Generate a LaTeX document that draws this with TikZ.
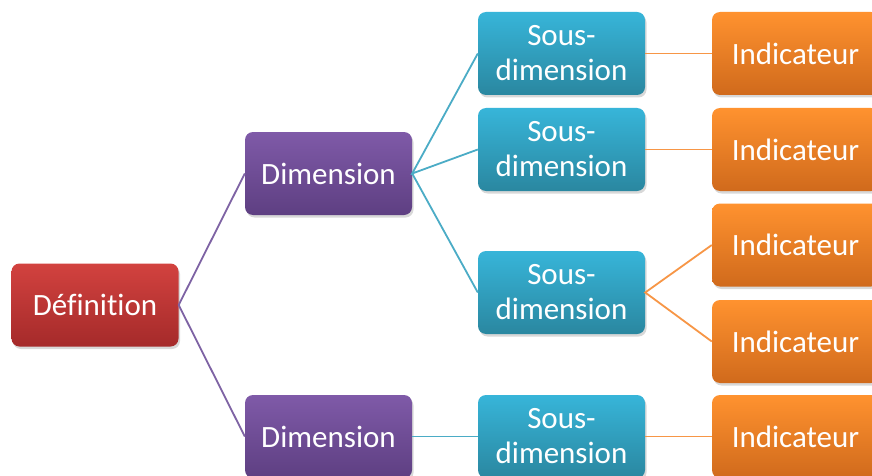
\documentclass[tikz,border=0pt]{standalone}
\usepackage{fontspec}
\setmainfont[Ligatures=NoCommon]{Carlito}
\usetikzlibrary{shadows}
\definecolor{redT}{HTML}{D2423F}
\definecolor{redB}{HTML}{A52A2A}
\definecolor{purT}{HTML}{7F5AA8}
\definecolor{purB}{HTML}{5E3F82}
\definecolor{bluT}{HTML}{37B5D9}
\definecolor{bluB}{HTML}{2A87A0}
\definecolor{oraT}{HTML}{FF922F}
\definecolor{oraB}{HTML}{D06A1C}
\definecolor{purL}{HTML}{7E63A4}
\definecolor{bluL}{HTML}{4BACC6}
\definecolor{oraL}{HTML}{F79646}
\begin{document}
\begin{tikzpicture}[x=1pt,y=-1pt,
  box/.style={rounded corners=8pt, minimum width=167pt, minimum height=83pt,
    text=white, align=center, inner sep=0pt,
    font=\fontsize{31}{35}\selectfont,
    drop shadow={opacity=0.3, shadow xshift=1.5pt, shadow yshift=-2.5pt}},
  defbox/.style={box, top color=redT, bottom color=redB},
  dimbox/.style={box, top color=purT, bottom color=purB},
  sdbox/.style={box, top color=bluT, bottom color=bluB},
  indbox/.style={box, top color=oraT, bottom color=oraB},
  purline/.style={draw=purL, line width=1.8pt},
  bluline/.style={draw=bluL, line width=1.8pt},
  oraline/.style={draw=oraL, line width=1.8pt}]
\clip (0,0) rectangle (872,476);
\fill[white] (0,0) rectangle (872,476);

\node[defbox] (def) at (95,305) {Définition};
\node[dimbox] (dim1) at (328.5,173.5) {Dimension};
\node[dimbox] (dim2) at (328.5,436.5) {Dimension};
\node[sdbox] (sd1) at (561.5,53.5) {Sous-\\dimension};
\node[sdbox] (sd2) at (561.5,149.5) {Sous-\\dimension};
\node[sdbox] (sd3) at (561.5,292.5) {Sous-\\dimension};
\node[sdbox] (sd4) at (561.5,436.5) {Sous-\\dimension};
\node[indbox] (i1) at (795.5,53.5) {Indicateur};
\node[indbox] (i2) at (795.5,149.5) {Indicateur};
\node[indbox] (i3) at (795.5,245) {Indicateur};
\node[indbox] (i4) at (795.5,341.5) {Indicateur};
\node[indbox] (i5) at (795.5,436.5) {Indicateur};

\draw[purline] (dim1.west) -- (def.east) -- (dim2.west);
\draw[bluline] (sd1.west) -- (dim1.east) -- (sd2.west);
\draw[bluline] (dim1.east) -- (sd3.west);
\draw[bluline] (dim2.east) -- (sd4.west);
\draw[oraline] (sd1.east) -- (i1.west);
\draw[oraline] (sd2.east) -- (i2.west);
\draw[oraline] (i3.west) -- (sd3.east) -- (i4.west);
\draw[oraline] (sd4.east) -- (i5.west);
\end{tikzpicture}
\end{document}
